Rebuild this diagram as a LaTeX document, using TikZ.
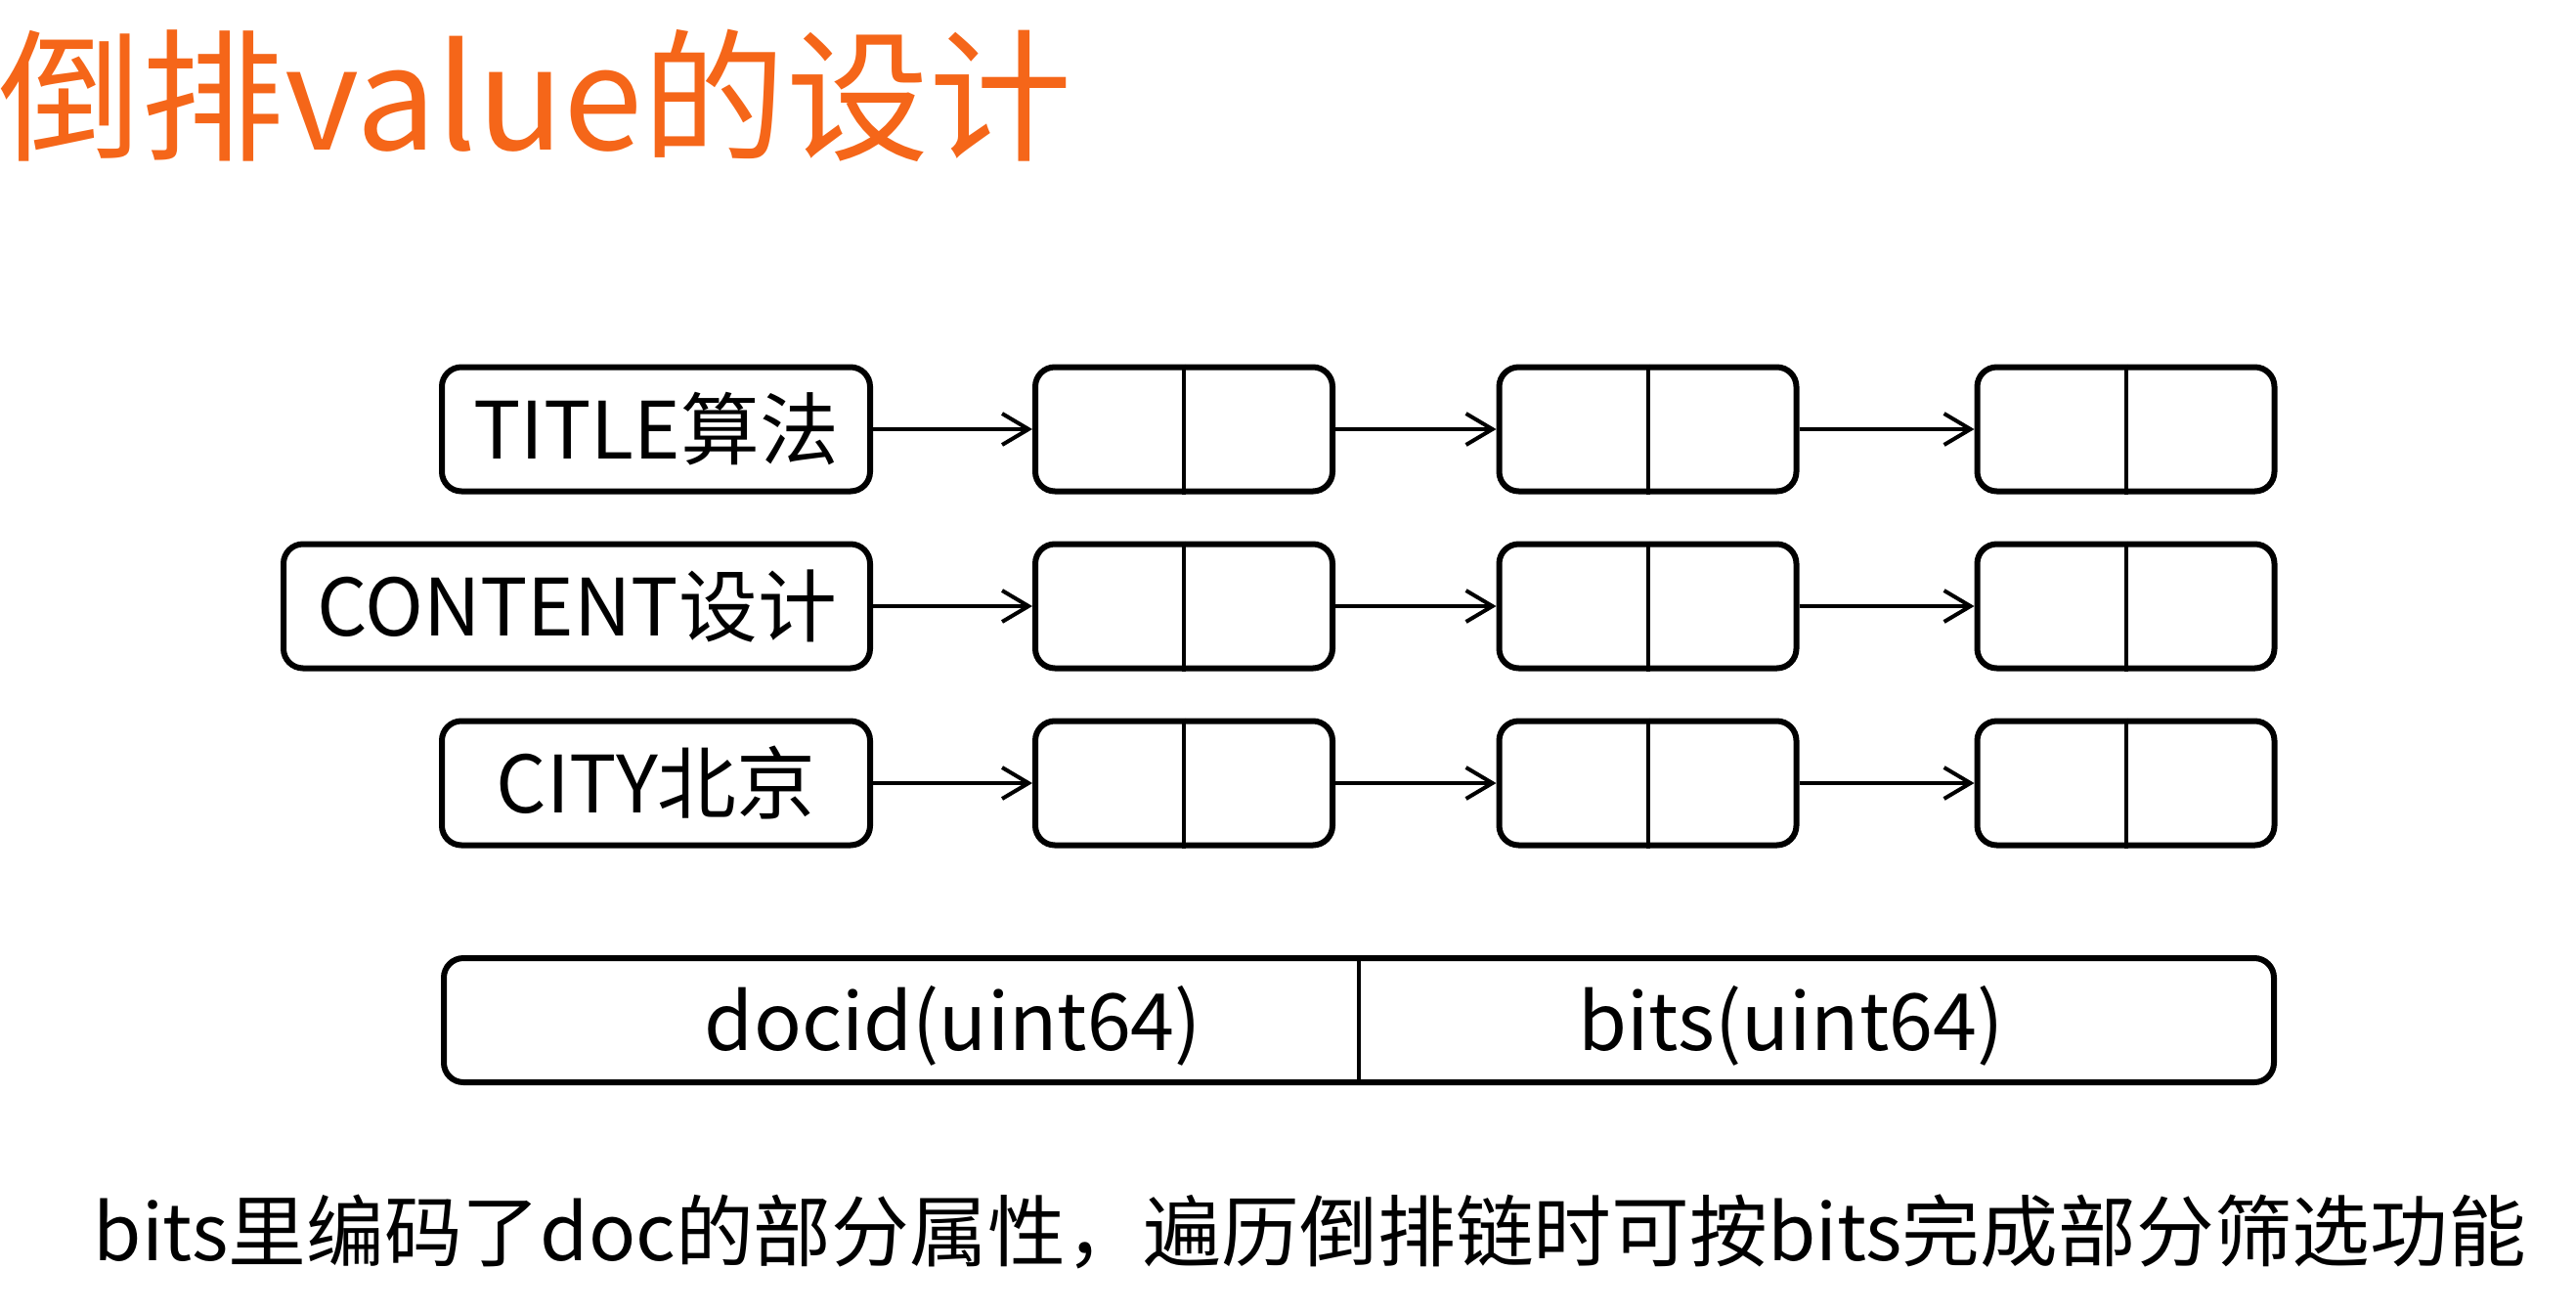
\documentclass[tikz,border=0pt]{standalone}
\usepackage{fontspec}
\setmainfont{Noto Sans CJK SC}
\usetikzlibrary{arrows.meta}
\definecolor{titleorange}{RGB}{245,102,25}
\tikzset{
  box/.style={draw=black, line width=0.06cm, rounded corners=0.2cm, inner sep=0pt, minimum height=1.27cm},
  keybox/.style={box, font=\fontsize{23pt}{28pt}\selectfont},
  cell/.style={box, minimum width=3.04cm},
  divider/.style={line width=0.04cm},
  link/.style={line width=0.035cm, -{Straight Barb[length=0.27cm,width=0.32cm,line width=0.04cm]}},
  fieldtext/.style={anchor=base, font=\fontsize{23pt}{28pt}\selectfont},
}
\begin{document}
\begin{tikzpicture}
\useasboundingbox (0,0) rectangle (26.35,-13.42);
\fill[white] (0,0) rectangle (26.35,-13.42);

% title
\node[anchor=base west, inner sep=0pt, text=titleorange, font=\fontsize{41.6pt}{49pt}\selectfont] (title) at (-0.02,-1.53) {倒排value的设计};

% keys
\node[keybox, minimum width=4.38cm] (l1) at (6.71,-4.39) {TITLE算法};
\node[keybox, minimum width=6.00cm] (l2) at (5.90,-6.20) {CONTENT设计};
\node[keybox, minimum width=4.38cm] (l3) at (6.71,-8.01) {CITY北京};

% cells
\foreach \r/\y in {1/-4.39, 2/-6.20, 3/-8.01} {
  \node[cell] (c\r1) at (12.11,\y) {};
  \node[cell] (c\r2) at (16.855,\y) {};
  \node[cell] (c\r3) at (21.745,\y) {};
  \foreach \c in {1,2,3} {
    \draw[divider] (c\r\c.north) -- (c\r\c.south);
  }
  \draw[link] (l\r) -- (c\r1);
  \draw[link] (c\r1) -- (c\r2);
  \draw[link] (c\r2) -- (c\r3);
}

% record layout
\node[box, minimum width=18.72cm] (rec) at (13.90,-10.435) {};
\draw[divider] (rec.north) -- (rec.south);
\node[fieldtext] (docid) at (9.75,-10.74) {docid(uint64)};
\node[fieldtext] (bits) at (18.32,-10.74) {bits(uint64)};

% note
\node[anchor=base west, inner sep=0pt, font=\fontsize{22.7pt}{27pt}\selectfont] (note) at (0.95,-12.89) {bits里编码了doc的部分属性，遍历倒排链时可按bits完成部分筛选功能};
\end{tikzpicture}
\end{document}
